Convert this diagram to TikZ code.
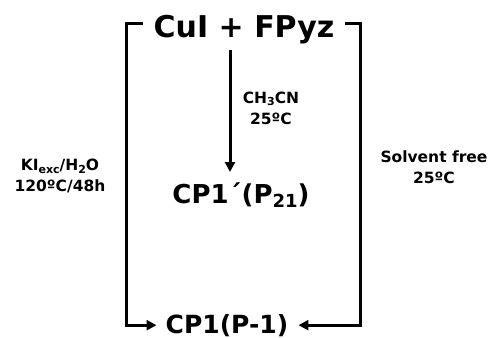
\documentclass[tikz,border=0pt]{standalone}
\usepackage{fontspec}
\setmainfont{DejaVu Sans}
\usetikzlibrary{arrows.meta}
\newcommand\lowsub[2]{\raisebox{-0.3ex}{\fontsize{#2}{#2}\selectfont #1}}
\begin{document}
\begin{tikzpicture}[x=1pt,y=-1pt,
  bar/.style={line width=3pt,line cap=butt,line join=miter},
  arr/.style={bar,-{Triangle[length=10pt,width=10pt]}},
  big/.style={font=\fontsize{30}{30}\selectfont\bfseries,inner sep=0pt},
  mid/.style={font=\fontsize{25}{25}\selectfont\bfseries,inner sep=0pt},
  small/.style={font=\fontsize{15.5}{21}\selectfont\bfseries,inner sep=0pt,align=center}]
\useasboundingbox (0,0) rectangle (491,338);
\node[big,anchor=base] (top) at (244,37) {CuI + FPyz};
\node[mid,anchor=base,font=\fontsize{26}{26}\selectfont\bfseries] (cpa) at (241,203) {CP1´(P\lowsub{21}{18})};
\node[mid,anchor=base] (bot) at (227,333) {CP1(P-1)};
\node[small] (cond1) at (271,108) {CH\lowsub{3}{11}CN\\25ºC};
\node[small] (cond2) at (60,176) {KI\lowsub{exc}{11}/H\lowsub{2}{11}O\\120ºC/48h};
\node[small] (cond3) at (434,167) {Solvent free\\25ºC};
\coordinate (lc) at (126,23);
\coordinate (rc) at (360,23);
\coordinate (ms) at (230,50);
\draw[arr] ([xshift=-10pt]top.west |- lc) -- (lc) |- ([xshift=-9pt]bot.west);
\draw[arr] ([xshift=10pt]top.east |- rc) -- (rc) |- ([xshift=10pt]bot.east);
\draw[arr] (ms) -- ([yshift=10pt]ms |- cpa.north);
\end{tikzpicture}
\end{document}
